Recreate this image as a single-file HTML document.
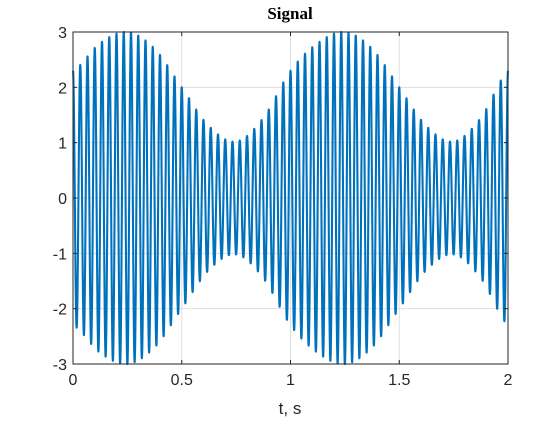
<!DOCTYPE html>
<html><head><meta charset="utf-8"><style>
body{margin:0;background:#fff;}
svg text{font-family:"Liberation Sans",sans-serif;fill:#262626;}
</style></head><body>
<svg id="chart" width="560" height="420" xmlns="http://www.w3.org/2000/svg">
<rect width="560" height="420" fill="#fff"/>
<g id="grid"></g>
<g id="plot"></g>
<g id="axes"></g>
<text x="290" y="19" text-anchor="middle" style="font-family:'Liberation Serif',serif;font-weight:bold;font-size:17px;fill:#000">Signal</text>
<text x="290" y="414" text-anchor="middle" font-size="17">t, s</text>
</svg>
<script>
const xTicks=[0,0.5,1,1.5,2];
const xTickLabels=["0","0.5","1","1.5","2"];
const yTicks=[-3,-2,-1,0,1,2,3];
const yTickLabels=["-3","-2","-1","0","1","2","3"];
const envTimes=[0,0.125,0.25,0.375,0.5,0.625,0.75,0.875,1.0,1.125,1.25,1.375,1.5,1.625,1.75,1.875,2.0];
const envValues=[2.3,2.8,3.0,2.7,2.0,1.3,1.02,1.45,2.3,2.8,3.0,2.7,2.0,1.3,1.02,1.45,2.3];
const carrierFreq=[30];
const tRange=[0,2];

const X0=73,X1=508,Y0=364,Y1=32;
const sx=t=>X0+(t-tRange[0])/(tRange[1]-tRange[0])*(X1-X0);
const sy=v=>Y0+(v+3)/6*(Y1-Y0);
const NS="http://www.w3.org/2000/svg";
function mk(tag,attrs,parent){const e=document.createElementNS(NS,tag);for(const k in attrs)e.setAttribute(k,attrs[k]);parent.appendChild(e);return e;}
const grid=document.getElementById('grid'),axes=document.getElementById('axes'),plot=document.getElementById('plot');
xTicks.forEach((t,i)=>{
 const g=mk('line',{x1:sx(t),x2:sx(t),y1:Y0,y2:Y1,stroke:'#dfdfdf','stroke-width':1},grid);
 
 
 const tk=mk('line',{x1:sx(t),x2:sx(t),y1:Y0,y2:Y0-4,stroke:'#262626'},axes);
 
 
 const tk2=mk('line',{x1:sx(t),x2:sx(t),y1:Y1,y2:Y1+4,stroke:'#262626'},axes);
 
 
 const l=mk('text',{x:sx(t),y:Y0+21,'text-anchor':'middle','font-size':16},axes);
 l.textContent=xTickLabels[i];
 
 
});
yTicks.forEach((v,i)=>{
 const g=mk('line',{x1:X0,x2:X1,y1:sy(v),y2:sy(v),stroke:'#dfdfdf','stroke-width':1},grid);
 
 
 const tk=mk('line',{x1:X0,x2:X0+4,y1:sy(v),y2:sy(v),stroke:'#262626'},axes);
 
 
 const tk2=mk('line',{x1:X1,x2:X1-4,y1:sy(v),y2:sy(v),stroke:'#262626'},axes);
 
 
 const l=mk('text',{x:X0-6,y:sy(v)+6,'text-anchor':'end','font-size':16},axes);
 l.textContent=yTickLabels[i];
 
 
});
const box=mk('rect',{x:X0,y:Y1,width:X1-X0,height:Y0-Y1,fill:'none',stroke:'#262626','stroke-width':1},axes);


function env(t){
 let i=0;while(i<envTimes.length-2&&t>envTimes[i+1])i++;
 const t0=envTimes[i],t1=envTimes[i+1];
 const p0=envValues[Math.max(i-1,0)],p1=envValues[i],p2=envValues[i+1],p3=envValues[Math.min(i+2,envValues.length-1)];
 const u=(t-t0)/(t1-t0);
 return 0.5*((2*p1)+(-p0+p2)*u+(2*p0-5*p1+4*p2-p3)*u*u+(-p0+3*p1-3*p2+p3)*u*u*u);
}
let d='';const N=6000;
for(let k=0;k<=N;k++){
 const t=tRange[0]+(tRange[1]-tRange[0])*k/N;
 const v=env(t)*Math.cos(2*Math.PI*carrierFreq[0]*t);
 d+=(k?'L':'M')+sx(t).toFixed(2)+','+sy(v).toFixed(2);
}
const line=mk('path',{d:d,fill:'none',stroke:'#0072BD','stroke-width':2.1,'stroke-linejoin':'round'},plot);


</script>
</body></html>
